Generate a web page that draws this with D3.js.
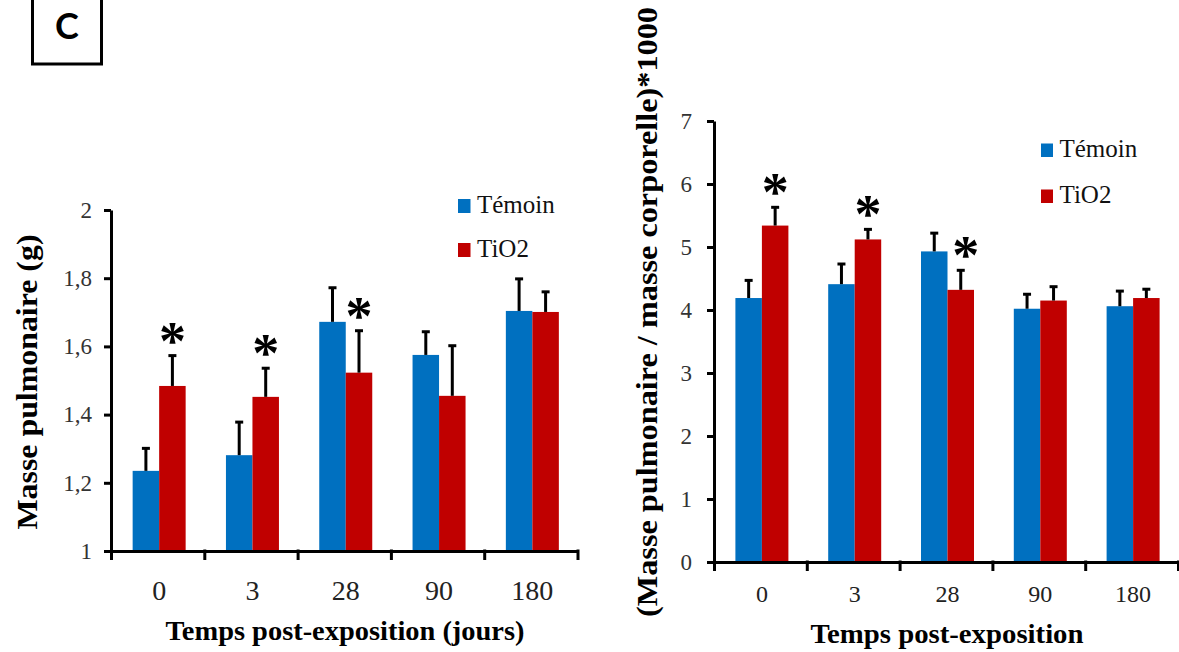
<!DOCTYPE html>
<html><head><meta charset="utf-8">
<script src="https://cdn.jsdelivr.net/npm/d3@7"></script>
<style>body{margin:0;background:#fff} svg{display:block}</style>
</head><body><svg id="c" width="1179" height="652"></svg>
<script>
// ---------- data ----------
const categories = ["0", "3", "28", "90", "180"];
const seriesNames = ["Témoin", "TiO2"];
const seriesColors = ["#0070C0", "#C00000"];

// Panel 1 : Masse pulmonaire (g)
const massTemoin    = [1.235, 1.281, 1.672, 1.575, 1.704];
const massTemoinErr = [0.066, 0.097, 0.100, 0.068, 0.094];
const massTiO2      = [1.484, 1.452, 1.523, 1.455, 1.701];
const massTiO2Err   = [0.089, 0.084, 0.123, 0.147, 0.059];
const massSig       = [true, true, true, false, false];
const massTickValues = [1, 1.2, 1.4, 1.6, 1.8, 2];
const massTickLabels = ["1", "1,2", "1,4", "1,6", "1,8", "2"];

// Panel 2 : (Masse pulmonaire / masse corporelle)*1000
const ratioTemoin    = [4.19, 4.41, 4.93, 4.02, 4.06];
const ratioTemoinErr = [0.28, 0.32, 0.29, 0.23, 0.24];
const ratioTiO2      = [5.34, 5.12, 4.32, 4.15, 4.19];
const ratioTiO2Err   = [0.29, 0.16, 0.31, 0.22, 0.14];
const ratioSig       = [true, true, true, false, false];
const ratioTickValues = [0, 1, 2, 3, 4, 5, 6, 7];
const ratioTickLabels = ["0", "1", "2", "3", "4", "5", "6", "7"];

// ---------- drawing ----------
const SERIF = "Liberation Serif";
const svg = d3.select("#c");

function panel(cfg) {
  const g = svg.append("g");
  const x = d3.scaleBand().domain(categories).range([cfg.x0, cfg.x1]).padding(0);
  const xi = d3.scaleLinear().domain([0, categories.length]).range([cfg.x0, cfg.x1]);
  const y = d3.scaleLinear().domain(cfg.domain).range([cfg.yb, cfg.yt]);
  const series = [
    {vals: cfg.a, errs: cfg.ae},
    {vals: cfg.b, errs: cfg.be}
  ];
  series.forEach((s, si) => {
    const gx = c => x(c) + x.bandwidth() / 2 - cfg.barW + si * cfg.barW + cfg.shift;
    g.selectAll(null).data(categories).enter().append("rect")
      .attr("x", c => gx(c))
      .attr("width", cfg.barW)
      .attr("y", (c, i) => y(s.vals[i]))
      .attr("height", (c, i) => y(cfg.domain[0]) - y(s.vals[i]))
      .attr("fill", seriesColors[si]);
    const eb = g.selectAll(null).data(categories).enter().append("g")
      .attr("stroke", "#000").attr("stroke-width", 3);
    eb.append("line")
      .attr("x1", c => gx(c) + cfg.barW / 2).attr("x2", c => gx(c) + cfg.barW / 2)
      .attr("y1", (c, i) => y(s.vals[i])).attr("y2", (c, i) => y(s.vals[i] + s.errs[i]));
    eb.append("line")
      .attr("x1", c => gx(c) + cfg.barW / 2 - 4).attr("x2", c => gx(c) + cfg.barW / 2 + 4)
      .attr("y1", (c, i) => y(s.vals[i] + s.errs[i])).attr("y2", (c, i) => y(s.vals[i] + s.errs[i]));
  });
  // significance stars above TiO2 bars
  g.selectAll(null).data(categories.filter((c, i) => cfg.sig[i])).enter().append("text")
    .attr("x", c => x(c) + x.bandwidth() / 2 + cfg.barW / 2 + cfg.shift + (cfg.starDx[categories.indexOf(c)] || 0))
    .attr("y", c => { const i = categories.indexOf(c); return y(cfg.b[i] + cfg.be[i]) + cfg.starDy; })
    .attr("text-anchor", "middle")
    .style("font-family", SERIF).style("font-size", cfg.starSize + "px").style("font-weight", "bold")
    .text("*");

  // y axis
  const ya = d3.axisLeft(y).tickValues(cfg.tickValues)
    .tickFormat((d, i) => cfg.tickLabels[i]).tickSize(7).tickSizeOuter(0).tickPadding(cfg.yPad);
  const yg = g.append("g").attr("transform", `translate(${cfg.x0},0)`).call(ya);
  yg.attr("font-family", null).attr("font-size", null);
  yg.select(".domain").attr("stroke-width", 3);
  yg.selectAll(".tick line").attr("stroke-width", 3);
  yg.selectAll(".tick text").style("font-family", SERIF).style("font-size", cfg.yFont + "px").attr("fill", "#333");

  // x axis (ticks at category boundaries)
  const xa = d3.axisBottom(xi).tickValues(d3.range(categories.length + 1))
    .tickFormat("").tickSize(9).tickSizeOuter(0);
  const xg = g.append("g").attr("transform", `translate(0,${cfg.yb})`).call(xa);
  xg.select(".domain").attr("stroke-width", 3);
  xg.selectAll(".tick line").attr("stroke-width", 3).attr("y1", -1.5);
  // category labels
  g.selectAll(null).data(categories).enter().append("text")
    .attr("x", c => x(c) + x.bandwidth() / 2 + cfg.shift)
    .attr("y", cfg.catY)
    .attr("text-anchor", "middle")
    .style("font-family", SERIF).style("font-size", cfg.catFont + "px").attr("fill", "#222")
    .text(c => c);

  // x title
  g.append("text")
    .attr("x", cfg.xTitleX).attr("y", cfg.xTitleY)
    .attr("text-anchor", "middle")
    .style("font-family", SERIF).style("font-size", "28px").style("font-weight", "bold")
    .attr("textLength", cfg.xTitleLen).attr("lengthAdjust", "spacingAndGlyphs")
    .text(cfg.xTitle);
  // y title
  g.append("text")
    .attr("transform", `translate(${cfg.yTitleX},${cfg.yTitleMid}) rotate(-90)`)
    .attr("text-anchor", "middle")
    .style("font-family", SERIF).style("font-size", "30px").style("font-weight", "bold")
    .attr("textLength", cfg.yTitleLen).attr("lengthAdjust", "spacingAndGlyphs")
    .text(cfg.yTitle);

  // legend
  seriesNames.forEach((n, si) => {
    const ly = cfg.legY + si * cfg.legGap;
    g.append("rect").attr("x", cfg.legX).attr("y", ly - cfg.legBox)
      .attr("width", cfg.legBox - 1.5).attr("height", cfg.legBox).attr("fill", seriesColors[si]);
    g.append("text").attr("x", cfg.legX + cfg.legBox + 5).attr("y", ly)
      .style("font-family", SERIF).style("font-size", cfg.legFont + "px").attr("fill", "#111")
      .text(n);
  });
}

panel({
  x0: 111, x1: 577.5, yt: 210, yb: 551, domain: [1, 2],
  a: massTemoin, ae: massTemoinErr, b: massTiO2, be: massTiO2Err, sig: massSig,
  tickValues: massTickValues, tickLabels: massTickLabels,
  barW: 26.5, shift: 1.5, yPad: 12, yFont: 23, catFont: 28, catY: 600,
  starSize: 54, starDy: 3, starDx: {},
  xTitle: "Temps post-exposition (jours)", xTitleX: 345, xTitleY: 640, xTitleLen: 359,
  yTitle: "Masse pulmonaire (g)", yTitleX: 37, yTitleMid: 382, yTitleLen: 295,
  legX: 458, legY: 213, legGap: 44, legBox: 14, legFont: 25
});

panel({
  x0: 714, x1: 1178, yt: 121, yb: 562, domain: [0, 7],
  a: ratioTemoin, ae: ratioTemoinErr, b: ratioTiO2, be: ratioTiO2Err, sig: ratioSig,
  tickValues: ratioTickValues, tickLabels: ratioTickLabels,
  barW: 26.5, shift: 1.5, yPad: 15, yFont: 23, catFont: 24, catY: 602,
  starSize: 54, starDy: 3, starDx: {2: 5},
  xTitle: "Temps post-exposition", xTitleX: 947, xTitleY: 643, xTitleLen: 273,
  yTitle: "(Masse pulmonaire / masse corporelle)*1000", yTitleX: 657, yTitleMid: 312, yTitleLen: 610,
  legX: 1041, legY: 157, legGap: 46, legBox: 13.5, legFont: 25
});

// panel label "C"
svg.append("rect").attr("x", 32.5).attr("y", -5).attr("width", 69).attr("height", 69)
  .attr("fill", "none").attr("stroke", "#000").attr("stroke-width", 3);
svg.append("text").attr("x", 67).attr("y", 39).attr("text-anchor", "middle")
  .style("font-family", "Lato").style("font-weight", "bold").style("font-size", "36px")
  .text("C");
</script></body></html>
